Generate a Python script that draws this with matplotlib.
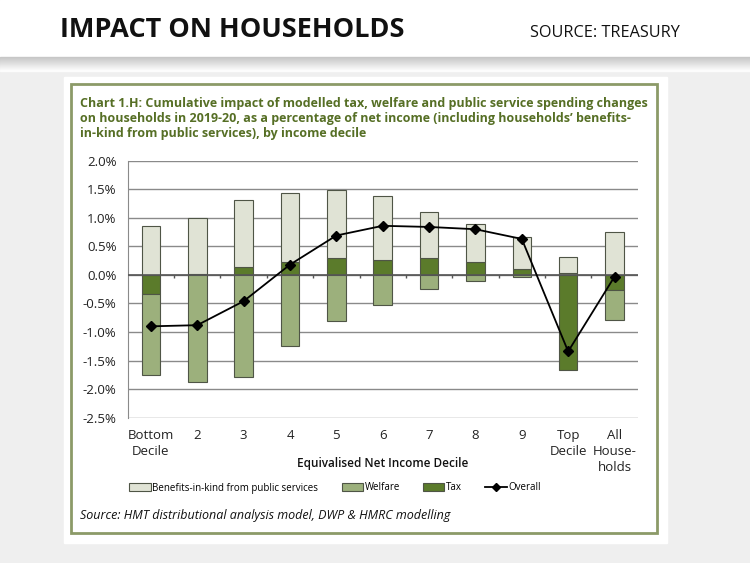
import numpy as np
import matplotlib
matplotlib.use('Agg')
from matplotlib import pyplot as plt
from matplotlib.patches import Rectangle
from matplotlib.lines import Line2D

# Chart values (percent of net income).
deciles = ['Bottom\nDecile', '2', '3', '4', '5', '6', '7', '8', '9', 'Top\nDecile', 'All\nHouse-\nholds']
tax = [-0.34, 0.02, 0.14, 0.23, 0.29, 0.26, 0.29, 0.23, 0.10, -1.67, -0.26]
welfare = [-1.41, -1.88, -1.78, -1.25, -0.80, -0.53, -0.25, -0.10, -0.03, 0.03, -0.53]
benefits = [0.85, 0.98, 1.18, 1.20, 1.20, 1.13, 0.81, 0.67, 0.56, 0.28, 0.76]
overall = [-0.90, -0.88, -0.46, 0.18, 0.69, 0.86, 0.84, 0.80, 0.63, -1.34, -0.03]
y_ticks = [2.0, 1.5, 1.0, 0.5, 0.0, -0.5, -1.0, -1.5, -2.0, -2.5]

c_bik = '#e0e3d5'
c_welfare = '#9cb07c'
c_tax = '#5b7b2b'
c_edge = '#4f5546'
olive = '#566f25'

plt.rcParams['font.family'] = ['Open Sans', 'DejaVu Sans']

fig = plt.figure(figsize=(7.5, 5.63), dpi=100)
fig.patch.set_facecolor('#efefef')
W, H = 750.0, 563.0

def px(x, y, w, h):
    # pixel box (top-left origin) -> figure fraction
    return (x / W, 1 - (y + h) / H, w / W, h / H)

# header band with a soft shadow underneath
bg = fig.add_axes([0, 0, 1, 1], zorder=-5)
bg.set_xlim(0, W)
bg.set_ylim(H, 0)
bg.axis('off')
bg.add_patch(Rectangle((0, 0), W, 57, color='white'))
for k in range(14):
    g = 0.78 + k * 0.016
    bg.add_patch(Rectangle((0, 57 + k), W, 1, color=(g, g, g)))
bg.add_patch(Rectangle((64, 77), 603, 466, color='white'))
bg.add_patch(Rectangle((71, 84), 586, 449, fill=False, edgecolor='#8c9a68', linewidth=2))

fig.text(60 / W, 1 - 30 / H, 'IMPACT ON HOUSEHOLDS', fontsize=19.5, fontweight='bold',
         va='center', ha='left', color='#111111')
fig.text(680 / W, 1 - 33 / H, 'SOURCE: TREASURY', fontsize=11.7,
         va='center', ha='right', color='#111111')

title = ('Chart 1.H: Cumulative impact of modelled tax, welfare and public service spending changes\n'
         'on households in 2019-20, as a percentage of net income (including households\u2019 benefits-\n'
         'in-kind from public services), by income decile')
fig.text(80 / W, 1 - 97 / H, title, fontsize=9.0, fontweight='bold', color=olive,
         va='top', ha='left', linespacing=1.2)

ax = fig.add_axes(px(127.7, 160.7, 510, 257))
x = np.arange(len(deciles))
tax = np.array(tax)
welfare = np.array(welfare)
benefits = np.array(benefits)

for v in y_ticks:
    ax.axhline(v, color='#8a8a8a', linewidth=1, zorder=0)

pos_base = np.zeros(len(x))
neg_base = np.zeros(len(x))
for vals, col in [(tax, c_tax), (welfare, c_welfare), (benefits, c_bik)]:
    base = np.where(vals >= 0, pos_base, neg_base)
    ax.bar(x, vals, width=0.4, bottom=base, color=col, edgecolor=c_edge, linewidth=0.8, zorder=2)
    pos_base = pos_base + np.where(vals >= 0, vals, 0)
    neg_base = neg_base + np.where(vals < 0, vals, 0)

ax.axhline(0, color='#555555', linewidth=1.2, zorder=3)
ax.vlines(x[:-1] + 0.5, -0.06, 0, color='#555555', linewidth=1, zorder=3)
ax.plot(x, overall, color='black', linewidth=1.3, marker='D', markersize=5.5, zorder=4)

ax.set_xlim(-0.5, len(x) - 0.5)
ax.set_ylim(-2.5, 2.0)
ax.set_yticks(y_ticks)
ax.set_yticklabels(['%.1f%%' % v for v in y_ticks], fontsize=9.5, color='#222222')
ax.set_xticks(x)
ax.set_xticklabels(deciles, fontsize=9.5, color='#222222', linespacing=1.3)
ax.tick_params(axis='both', length=0, pad=8)
for s in ['top', 'right', 'bottom']:
    ax.spines[s].set_visible(False)
ax.spines['left'].set_color('#8a8a8a')
ax.set_facecolor('white')

fig.text(383 / W, 1 - 463 / H, 'Equivalised Net Income Decile', fontsize=8.5, fontweight='semibold',
         ha='center', va='center', color='#111111')

handles = [Rectangle((0, 0), 1, 1, facecolor=c_bik, edgecolor=c_edge, linewidth=0.8),
           Rectangle((0, 0), 1, 1, facecolor=c_welfare, edgecolor=c_edge, linewidth=0.8),
           Rectangle((0, 0), 1, 1, facecolor=c_tax, edgecolor=c_edge, linewidth=0.8),
           Line2D([], [], color='black', marker='D', markersize=4, linewidth=1.3)]
labels = ['Benefits-in-kind from public services', 'Welfare', 'Tax', 'Overall']
fig.legend(handles, labels, loc='center', bbox_to_anchor=(335 / W, 1 - 488 / H), ncol=4,
           frameon=False, fontsize=7, handlelength=2.2, handleheight=0.8, handletextpad=0.15,
           columnspacing=2.4)

fig.text(80 / W, 1 - 515 / H, 'Source: HMT distributional analysis model, DWP & HMRC modelling',
         fontsize=9, style='italic', ha='left', va='center', color='#111111')

fig.savefig('out.png', dpi=100, facecolor=fig.get_facecolor())
